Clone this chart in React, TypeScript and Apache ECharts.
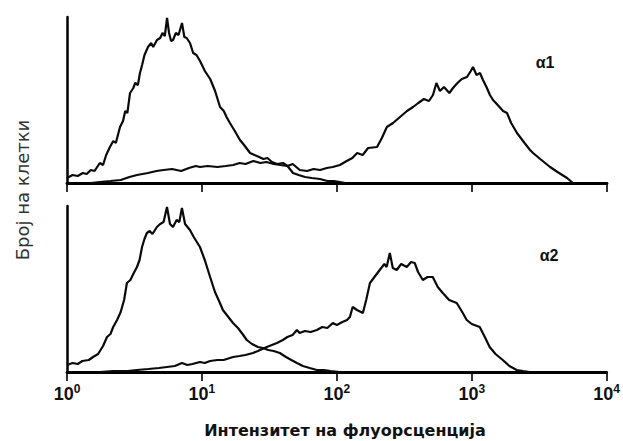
import React, { useEffect, useRef } from 'react';
import * as echarts from 'echarts';

const tickExponents = ['0', '1', '2', '3', '4'];
const panelLabels = ['α1', 'α2'];
const yTitle = 'Број на клетки';
const xTitle = 'Интензитет на флуорсценција';

// [fluorescence intensity, cell count]
const control1: number[][] = [
  [1.0, 5], [1.1, 8], [1.2, 7], [1.31, 10], [1.4, 9], [1.5, 13], [1.6, 12], [1.75, 20], [1.85, 18],
  [1.95, 28], [2.08, 36], [2.2, 42], [2.3, 40], [2.47, 56], [2.6, 62], [2.7, 72], [2.8, 70], [2.93, 90],
  [3.1, 95], [3.2, 100], [3.35, 98], [3.47, 110], [3.6, 118], [3.75, 128], [3.98, 136], [4.2, 140],
  [4.35, 136], [4.64, 143], [4.9, 145], [5.1, 150], [5.3, 147], [5.51, 165], [5.7, 150], [5.9, 142],
  [6.1, 143], [6.4, 150], [6.7, 148], [7.11, 160], [7.4, 146], [7.7, 145], [8.15, 140], [8.6, 130],
  [9.1, 128], [9.67, 122], [10.5, 112], [11.5, 104], [12.5, 92], [13.6, 76], [14.5, 72], [15.2, 66],
  [16.1, 60], [17.5, 52], [19.1, 43], [20.5, 38], [22.7, 30], [24.5, 28], [26.5, 26], [28.5, 24],
  [30.5, 25], [33, 21], [36, 19], [39.8, 20], [43, 17], [47.2, 10], [52, 8], [58, 6], [65, 5],
  [74.8, 4], [85, 2], [95, 2], [105, 1], [115, 0],
];

const alpha1: number[][] = [
  [1.5, 0], [1.75, 1], [2.1, 2], [2.5, 3], [2.9, 6], [3.3, 8], [3.98, 10], [4.6, 12], [5.2, 13],
  [6.0, 14], [7.0, 12], [8.0, 15], [9.0, 17], [9.67, 16], [11, 17], [13, 16], [15, 17], [17, 18],
  [19, 20], [21, 19], [24, 22], [27, 20], [30, 21], [34, 19], [38, 18], [43, 17], [47, 19], [53, 13],
  [60, 12], [67, 14], [75, 13], [84, 15], [93, 16], [105, 18], [118, 22], [130, 25], [141, 30],
  [155, 28], [170, 35], [198, 36], [215, 45], [234, 56], [260, 60], [293, 66], [330, 72], [366, 76],
  [400, 80], [440, 84], [480, 82], [514, 88], [545, 100], [579, 92], [620, 96], [680, 90], [723, 95],
  [780, 100], [840, 104], [918, 106], [980, 112], [1017, 116], [1080, 108], [1146, 110], [1206, 103],
  [1280, 96], [1358, 88], [1431, 83], [1550, 78], [1698, 72], [1816, 70], [1950, 60], [2154, 50],
  [2269, 46], [2450, 40], [2692, 33], [2833, 30], [3200, 24], [3787, 16], [4300, 11], [5057, 5],
  [5596, 0],
];

const control2: number[][] = [
  [1.0, 7], [1.1, 9], [1.2, 8], [1.3, 11], [1.45, 12], [1.56, 15], [1.7, 18], [1.85, 26], [1.98, 35],
  [2.1, 38], [2.2, 45], [2.35, 52], [2.5, 60], [2.65, 72], [2.78, 89], [2.95, 92], [3.1, 98],
  [3.3, 105], [3.45, 112], [3.6, 125], [3.75, 133], [3.91, 139], [4.1, 141], [4.3, 138], [4.64, 145],
  [4.9, 148], [5.2, 150], [5.51, 165], [5.8, 148], [6.1, 145], [6.5, 152], [6.8, 150], [7.11, 164],
  [7.5, 148], [8.15, 142], [8.7, 135], [9.67, 125], [10.5, 112], [11.5, 95], [12.5, 80], [13.5, 70],
  [14.3, 62], [15.5, 56], [17.0, 49], [18.5, 44], [20, 38], [21.5, 32], [23.5, 28], [26, 25],
  [28.3, 24], [31, 22], [34, 21], [37.8, 19], [42, 15], [46, 12], [50.6, 9], [56, 6], [63, 4],
  [71.1, 2], [80, 2], [90, 1], [105, 0],
];

const alpha2: number[][] = [
  [1.75, 0], [2.2, 1], [2.8, 1], [3.3, 2], [4.0, 3], [4.8, 4], [5.5, 5], [6.3, 6], [7.11, 9], [7.8, 7],
  [8.5, 8], [9.67, 10], [10.5, 9], [11.5, 11], [13, 12], [14.5, 12], [17.0, 15], [19, 16], [21, 17],
  [23.9, 19], [26, 21], [28, 23], [30.3, 25], [33, 27], [36, 29], [39.8, 32], [43, 35], [47, 37],
  [50.6, 42], [53, 39], [58, 41], [64, 40], [71.1, 42], [78, 45], [85, 44], [93.4, 49], [100, 47],
  [110, 50], [119, 52], [125, 55], [131, 65], [141, 62], [156, 59], [165, 72], [176, 89], [190, 95],
  [208, 102], [225, 108], [234, 105], [247, 119], [260, 104], [278, 102], [300, 108], [330, 105],
  [355, 110], [378, 109], [400, 100], [434, 92], [470, 95], [514, 95], [560, 85], [610, 79],
  [680, 72], [774, 69], [850, 60], [918, 52], [1000, 48], [1146, 45], [1250, 35], [1358, 25],
  [1500, 18], [1698, 12], [1900, 6], [2154, 2], [2400, 1], [2692, 0],
];

const FONT = 'Liberation Sans, Arial, sans-serif';
const WIDE = 'DejaVu Sans, Verdana, sans-serif';

export default function App() {
  const ref = useRef<HTMLDivElement>(null);
  useEffect(() => {
    if (!ref.current) return;
    const chart = echarts.init(ref.current, undefined, { renderer: 'svg' });
    const lineStyle = { color: '#0a0a0a', width: 2.2 };
    const mkX = (gi: number, showLabel: boolean) => ({
      gridIndex: gi,
      type: 'log',
      logBase: 10,
      min: 1,
      max: 10000,
      axisLine: { show: true, lineStyle: { color: '#000', width: 2.8 } },
      axisTick: { show: true, inside: false, length: 9, lineStyle: { color: '#000', width: 1.6 } },
      minorTick: { show: false },
      splitLine: { show: false },
      axisLabel: {
        show: showLabel,
        margin: 11,
        formatter: (_v: number, idx: number) => `{b|10}{s|${tickExponents[idx] ?? ''}}`,
        rich: {
          b: { fontSize: 18, fontWeight: 'bold', fontFamily: FONT, color: '#111' },
          s: { fontSize: 12, fontWeight: 'bold', fontFamily: FONT, color: '#111', padding: [0, 0, 9, 0] },
        },
      },
    });
    const mkY = (gi: number) => ({
      gridIndex: gi,
      type: 'value',
      min: 0,
      max: 166,
      axisLine: { show: true, lineStyle: { color: '#000', width: 2.5 } },
      axisTick: { show: false },
      axisLabel: { show: false },
      splitLine: { show: false },
    });
    const mkS = (data: number[][], gi: number) => ({
      type: 'line',
      xAxisIndex: gi,
      yAxisIndex: gi,
      data,
      showSymbol: false,
      symbol: 'none',
      lineStyle,
      z: 3,
    });
    chart.setOption({
      animation: false,
      backgroundColor: '#fff',
      grid: [
        { left: 67, top: 17, width: 540, height: 166 },
        { left: 67, top: 206, width: 540, height: 166 },
      ],
      xAxis: [mkX(0, false), mkX(1, true)],
      yAxis: [mkY(0), mkY(1)],
      series: [mkS(control1, 0), mkS(alpha1, 0), mkS(control2, 1), mkS(alpha2, 1)],
      graphic: [
        {
          type: 'text',
          x: 22,
          y: 190,
          rotation: Math.PI / 2,
          style: {
            text: yTitle,
            fontSize: 18,
            fontFamily: WIDE,
            fill: '#333',
            align: 'center',
            verticalAlign: 'middle',
          },
        },
        {
          type: 'text',
          x: 345,
          y: 430,
          style: {
            text: xTitle,
            fontSize: 16,
            fontWeight: 'bold',
            fontFamily: WIDE,
            fill: '#111',
            align: 'center',
            verticalAlign: 'middle',
          },
        },
        {
          type: 'text',
          x: 545,
          y: 62,
          style: { text: panelLabels[0], fontSize: 16, fontWeight: 'bold', fontFamily: FONT, fill: '#111', align: 'center', verticalAlign: 'middle' },
        },
        {
          type: 'text',
          x: 549,
          y: 255,
          style: { text: panelLabels[1], fontSize: 16, fontWeight: 'bold', fontFamily: FONT, fill: '#111', align: 'center', verticalAlign: 'middle' },
        },
      ],
    });
    return () => chart.dispose();
  }, []);
  return <div ref={ref} style={{ position: 'fixed', left: 0, top: 0, width: 623, height: 441 }} />;
}
